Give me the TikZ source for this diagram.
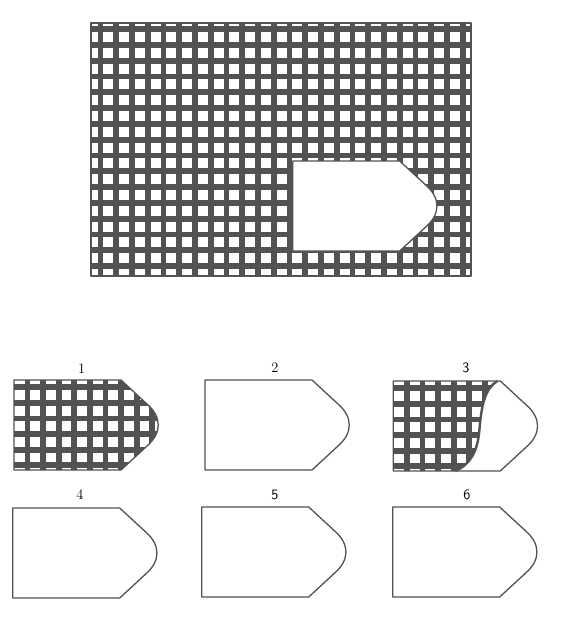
\documentclass[tikz,border=0pt]{standalone}
\definecolor{meshgray}{RGB}{82,82,82}
% outline of the tag-shaped patch, top left corner at (0,0)
\newcommand{\tagoutline}{(0,0) -- (107,0) -- (133,24) .. controls (148,37) and (148,53) .. (133,66) -- (107,90) -- (0,90) -- cycle}
\newcommand{\meshbars}{%
  \foreach \i in {0,...,8} \draw[bar] (13.5+15.6*\i,-5) -- ++(0,100);
  \foreach \j in {0,...,5} \draw[bar] (-5,7.3+15.6*\j) -- ++(160,0);
}
\begin{document}
\begin{tikzpicture}[x=1pt, y=-1pt,
  bar/.style={draw=meshgray, line width=5.8pt},
  rim/.style={draw=meshgray, line width=1.3pt, line join=round},
  optlabel/.style={font=\Large, inner sep=0pt}
]
\useasboundingbox (0,0) rectangle (573,632);

% the sheet with the hole
\begin{scope}
  \clip (90.6,22.6) rectangle (470.6,275.9);
  \foreach \i in {0,...,23} \draw[bar] (100.5+15.75*\i,15) -- ++(0,270);
  \foreach \j in {0,...,15} \draw[bar] (85,29+15.8*\j) -- ++(395,0);
\end{scope}
\draw[rim, line width=2.2pt] (90.6,22.6) rectangle (470.6,275.9);
\filldraw[rim, fill=white, shift={(292.7,161)}] \tagoutline;

% option 1
\begin{scope}[shift={(14,380)}]
  \clip \tagoutline;
  \meshbars
\end{scope}
\draw[rim, shift={(14,380)}] \tagoutline;

% option 2
\draw[rim, shift={(205,380)}] \tagoutline;

% option 3
\begin{scope}[shift={(393.3,381)}]
  \clip (0,0) -- (104,0) .. controls (91,8) and (88,26) .. (86,50)
        .. controls (84,72) and (76,84) .. (62,90) -- (0,90) -- cycle;
  \meshbars
\end{scope}
\draw[rim, shift={(393.3,381)}] \tagoutline;
\draw[meshgray, line width=2.4pt, shift={(393.3,381)}] (104,0) .. controls (91,8) and (88,26) .. (86,50)
      .. controls (84,72) and (76,84) .. (62,90);

% options 4 to 6
\draw[rim, shift={(12.7,508)}] \tagoutline;
\draw[rim, shift={(201.7,507)}] \tagoutline;
\draw[rim, shift={(392.7,507)}] \tagoutline;

% numbers
\node[optlabel] (opt1) at (81.7,368.3) {1};
\node[optlabel] (opt2) at (275,367.7) {2};
\node[optlabel, font=\Large\sffamily] (opt3) at (466,368) {3};
\node[optlabel] (opt4) at (80,495) {4};
\node[optlabel, font=\Large\sffamily] (opt5) at (275,495) {5};
\node[optlabel, font=\Large\sffamily] (opt6) at (467,495) {6};
\end{tikzpicture}
\end{document}
